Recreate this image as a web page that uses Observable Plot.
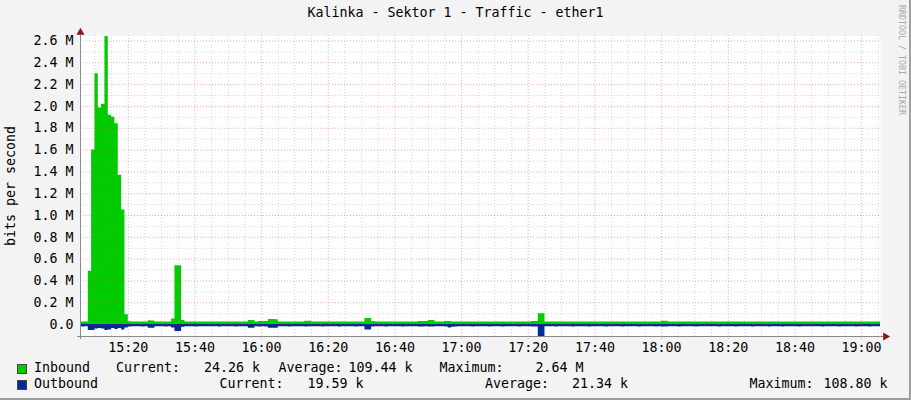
<!DOCTYPE html>
<html>
<head>
<meta charset="utf-8">
<script src="https://cdn.jsdelivr.net/npm/d3@7"></script>
<script src="https://cdn.jsdelivr.net/npm/@observablehq/plot@0.6"></script>
<style>
  html, body { margin: 0; padding: 0; background: #f3f3f3; }
  #chart { position: relative; width: 911px; height: 400px; background: #f3f3f3; overflow: hidden;
           font-family: "DejaVu Sans Mono", monospace; color: #000; }
  #title { position: absolute; left: 0; top: 5px; width: 911px; text-align: center; font-size: 13.3px; line-height: 16px; white-space: pre; }
  #ylabel { position: absolute; left: 11px; top: 186px; transform: translate(-50%, -50%) rotate(-90deg);
            font-size: 13.3px; white-space: pre; line-height: 14px; }
  #credit { position: absolute; left: 897px; top: 5px; writing-mode: vertical-rl; font-size: 8.3px; color: #a8a8a8; white-space: pre; line-height: 10px; }
  #plot { position: absolute; left: 0; top: 24px; }
  .lg { position: absolute; font-size: 13.3px; white-space: pre; line-height: 16px; }
  .sw { position: absolute; width: 8px; height: 8px; border: 1px solid #444; }
  #edgeR { position: absolute; right: 0; top: 0; width: 2px; height: 400px; background: #9e9e9e; }
  #edgeB { position: absolute; left: 0; bottom: 0; width: 911px; height: 2px; background: #9e9e9e; }
</style>
</head>
<body>
<div id="chart">
  <div id="title"></div>
  <div id="ylabel"></div>
  <div id="credit"></div>
  <div id="plot"></div>
  <div id="legend"></div>
  <div id="edgeR"></div>
  <div id="edgeB"></div>
</div>
<script>
// ---- text ----
const titleText = "Kalinka - Sektor 1 - Traffic - ether1";
const yAxisLabel = "bits per second";
const creditText = "RRDTOOL / TOBI OETIKER";

// ---- series: one value per minute starting 15:05 (k bits/s) ----
const startTime = "15:05";
const inbound = [
  24, 23, 24, 490, 1600, 2300, 1985, 2020, 2640, 1920,   // 15:05
  1900, 1840, 1370, 1050, 90, 26, 24, 23, 25, 24,        // 15:15
  24, 36, 34, 24, 23, 24, 25, 24, 52, 540,               // 15:25
  540, 37, 24, 23, 24, 25, 24, 23, 24, 24,               // 15:35
  23, 24, 25, 24, 24, 23, 24, 25, 24, 23,                // 15:45
  24, 37, 37, 24, 28, 28, 28, 46, 46, 45,                // 15:55
  24, 23, 24, 25, 24, 23, 24, 24, 30, 30,                // 16:05
  24, 23, 24, 25, 24, 24, 23, 24, 25, 24,                // 16:15
  23, 24, 24, 25, 24, 24, 57, 57, 28, 24,                // 16:25
  23, 24, 25, 24, 23, 24, 24, 25, 24, 23,                // 16:35
  24, 24, 29, 29, 29, 38, 38, 24, 23, 24,                // 16:45
  29, 29, 24, 25, 24, 23, 24, 24, 25, 24,                // 16:55
  23, 24, 24, 25, 24, 23, 24, 25, 24, 24,                // 17:05
  23, 24, 25, 24, 24, 23, 28, 28, 100, 100,              // 17:15
  24, 23, 24, 25, 24, 24, 23, 24, 25, 24,                // 17:25
  24, 23, 24, 25, 24, 24, 23, 24, 25, 24,                // 17:35
  23, 24, 24, 25, 24, 23, 24, 24, 25, 24,                // 17:45
  24, 23, 24, 25, 24, 30, 30, 24, 23, 24,                // 17:55
  25, 24, 23, 24, 24, 25, 24, 23, 24, 24,                // 18:05
  23, 24, 25, 24, 24, 23, 24, 25, 24, 23,                // 18:15
  24, 24, 25, 24, 23, 24, 24, 25, 24, 23,                // 18:25
  24, 25, 24, 23, 24, 24, 25, 24, 23, 24,                // 18:35
  24, 23, 24, 25, 24, 24, 23, 24, 25, 24,                // 18:45
  23, 24, 24, 25, 24, 23, 24, 25, 24, 24,                // 18:55
  24.26, 24.26                                           // 19:05
];
const outbound = [
  20, 21, 20, 55, 55, 40, 35, 40, 55, 50,                // 15:05
  35, 45, 35, 50, 30, 21, 20, 19, 20, 21,                // 15:15
  20, 33, 33, 20, 19, 20, 21, 20, 32, 64,                // 15:25
  64, 25, 20, 19, 20, 21, 20, 19, 20, 20,                // 15:35
  19, 20, 21, 20, 20, 19, 20, 21, 20, 19,                // 15:45
  20, 33, 33, 20, 21, 20, 21, 33, 33, 33,                // 15:55
  20, 19, 20, 21, 20, 19, 20, 20, 21, 20,                // 16:05
  20, 19, 20, 21, 20, 20, 19, 20, 21, 20,                // 16:15
  19, 20, 20, 21, 20, 20, 50, 50, 22, 20,                // 16:25
  19, 20, 21, 20, 19, 20, 20, 21, 20, 19,                // 16:35
  20, 20, 21, 21, 20, 21, 22, 20, 19, 20,                // 16:45
  21, 30, 25, 21, 20, 19, 20, 20, 21, 20,                // 16:55
  19, 20, 20, 21, 20, 19, 20, 21, 20, 20,                // 17:05
  19, 20, 21, 20, 20, 19, 21, 22, 108.8, 108.8,          // 17:15
  20, 19, 20, 21, 20, 20, 19, 20, 21, 20,                // 17:25
  20, 19, 20, 21, 20, 20, 19, 20, 21, 20,                // 17:35
  19, 20, 20, 21, 20, 19, 20, 20, 21, 20,                // 17:45
  20, 19, 20, 21, 20, 21, 21, 20, 19, 20,                // 17:55
  21, 20, 19, 20, 20, 21, 20, 19, 20, 20,                // 18:05
  19, 20, 21, 20, 20, 19, 20, 21, 20, 19,                // 18:15
  20, 20, 21, 20, 19, 20, 20, 21, 20, 19,                // 18:25
  20, 21, 20, 19, 20, 20, 21, 20, 19, 20,                // 18:35
  20, 19, 20, 21, 20, 20, 19, 20, 21, 20,                // 18:45
  19, 20, 20, 21, 20, 19, 20, 21, 20, 20,                // 18:55
  19.59, 19.59                                           // 19:05
];

// ---- axes ----
const xDomainText = ["15:05:40", "19:05:40"];
const xMajorLabels = ["15:20","15:40","16:00","16:20","16:40","17:00","17:20","17:40","18:00","18:20","18:40","19:00"];
const yMajorM = [0.0, 0.2, 0.4, 0.6, 0.8, 1.0, 1.2, 1.4, 1.6, 1.8, 2.0, 2.2, 2.4, 2.6];
const yMinorM = [0.1, 0.3, 0.5, 0.7, 0.9, 1.1, 1.3, 1.5, 1.7, 1.9, 2.1, 2.3, 2.5];
const yDomainM = [-0.109, 2.65];

// ---- legend ----
const legendNames = ["Inbound", "Outbound"];
const legendColors = ["#00CC00", "#002A97"];
const legendCurrent = ["24.26 k", "19.59 k"];
const legendAverage = ["109.44 k", "21.34 k"];
const legendMaximum = ["2.64 M", "108.80 k"];

// ---------------------------------------------------------------
const day = [2024, 0, 1];
function at(str) {
  const p = str.split(":").map(Number);
  return new Date(day[0], day[1], day[2], p[0], p[1], p[2] || 0);
}
const t0 = at(startTime);
const data = inbound.map((v, i) => ({
  t: new Date(t0.getTime() + i * 60000),
  inb: v * 1000,
  out: -outbound[i] * 1000
}));
const xStart = at(xDomainText[0]);
const xEnd = at(xDomainText[1]);
const yMin = yDomainM[0] * 1e6, yMax = yDomainM[1] * 1e6;
const xMajor = xMajorLabels.map(at);
const majorSet = new Set(xMajor.map(d => +d));
const xMinor = d3.timeMinute.every(5).range(xStart, xEnd).filter(d => !majorSet.has(+d));

const minorColor = "rgba(130,130,130,0.33)";
const majorColor = "rgba(235,50,50,0.42)";
const axisColor = "#8a8a8a";

const chart = Plot.plot({
  width: 911,
  height: 336,
  marginLeft: 80,
  marginRight: 31,
  marginTop: 11,
  marginBottom: 24,
  style: { background: "transparent", fontFamily: "DejaVu Sans Mono", fontSize: "13.3px", color: "#000", overflow: "visible" },
  x: { type: "time", domain: [xStart, xEnd], ticks: xMajor, tickFormat: d3.timeFormat("%H:%M"), tickSize: 0, tickPadding: 6, label: null },
  y: { domain: [yMin, yMax], ticks: yMajorM.map(v => v * 1e6), tickFormat: d => d === 0 ? "0.0" : (d / 1e6).toFixed(1) + " M", tickSize: 0, tickPadding: 7, label: null },
  marks: [
    Plot.frame({ fill: "white", stroke: "none" }),
    Plot.areaY(data, { x: "t", y1: () => 0, y2: "inb", curve: "step-after", fill: legendColors[0], clip: true }),
    Plot.areaY(data, { x: "t", y1: () => 0, y2: "out", curve: "step-after", fill: legendColors[1], clip: true }),
    Plot.ruleX(xMinor, { stroke: minorColor, strokeDasharray: "1,2" }),
    Plot.ruleY(yMinorM.map(v => v * 1e6), { stroke: minorColor, strokeDasharray: "1,2" }),
    Plot.ruleX(xMajor, { stroke: majorColor, strokeDasharray: "1,2", insetBottom: -4 }),
    Plot.ruleY(yMajorM.map(v => v * 1e6), { stroke: majorColor, strokeDasharray: "1,2" }),
    Plot.ruleY([yMin], { stroke: axisColor, insetLeft: -3, insetRight: -4 }),
    Plot.ruleX([xStart], { stroke: axisColor, insetTop: -3, insetBottom: -3 }),
    Plot.dot([xEnd], { x: d => d, y: () => yMin, symbol: "triangle", rotate: 90, r: 3, fill: "#8b1a1a", stroke: "none", dx: 5 }),
    Plot.dot([xStart], { x: d => d, y: () => yMax, symbol: "triangle", r: 3, fill: "#8b1a1a", stroke: "none", dy: -3 })
  ]
});
document.getElementById("plot").appendChild(chart);

document.getElementById("title").textContent = titleText;
document.getElementById("ylabel").textContent = yAxisLabel;
document.getElementById("credit").textContent = creditText;

// legend layout (left positions in px)
const legendLayout = [
  { y: 360, name: 34, cur: [116, 204], avg: [278.5, 348.5], max: [439.5, 535.5] },
  { y: 376, name: 34, cur: [219.5, 307.5], avg: [485, 572], max: [749.5, 823.5] }
];
const lg = document.getElementById("legend");
function addText(txt, left, top) {
  const s = document.createElement("div");
  s.className = "lg";
  s.style.left = left + "px";
  s.style.top = top + "px";
  s.textContent = txt;
  lg.appendChild(s);
}
legendNames.forEach((name, i) => {
  const L = legendLayout[i];
  const sw = document.createElement("div");
  sw.className = "sw";
  sw.style.left = "17px";
  sw.style.top = (L.y + 4) + "px";
  sw.style.background = legendColors[i];
  lg.appendChild(sw);
  addText(name, L.name, L.y);
  addText("Current:", L.cur[0], L.y);
  addText(legendCurrent[i], L.cur[1], L.y);
  addText("Average:", L.avg[0], L.y);
  addText(legendAverage[i], L.avg[1], L.y);
  addText("Maximum:", L.max[0], L.y);
  addText(legendMaximum[i], L.max[1], L.y);
});
</script>
</body>
</html>
